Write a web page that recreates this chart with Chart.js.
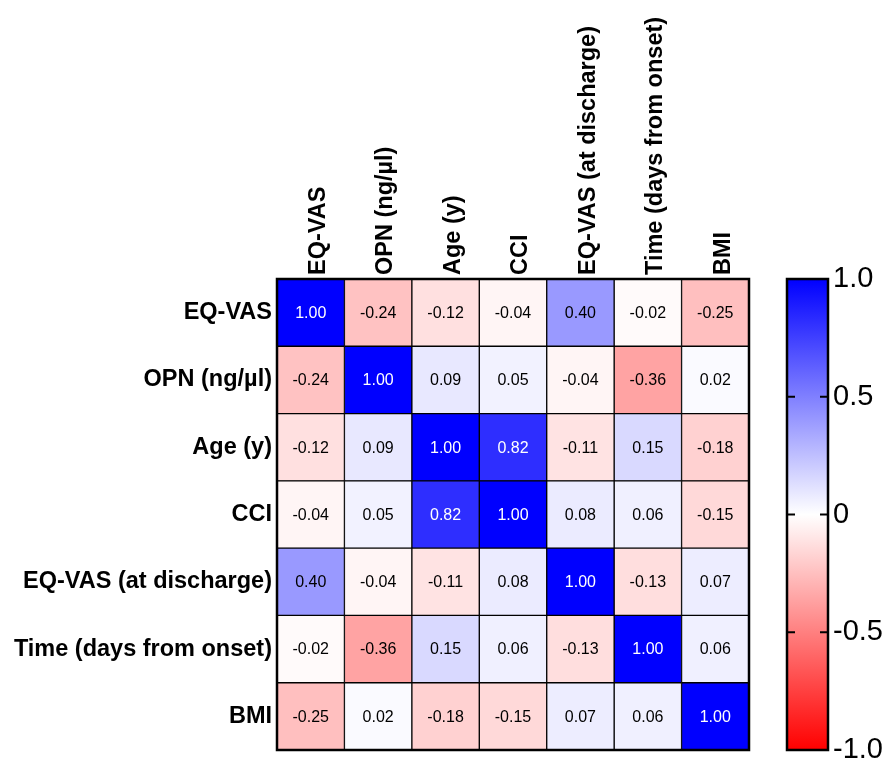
<!DOCTYPE html>
<html><head><meta charset="utf-8">
<script src="https://cdn.jsdelivr.net/npm/chart.js@4.4.1/dist/chart.umd.min.js"></script>
<style>html,body{margin:0;padding:0;background:#fff;}#wrap{width:886px;height:758px;position:relative;}</style>
</head><body><div id="wrap"><canvas id="c" width="886" height="758"></canvas></div>
<script>
const rowLabels = ['EQ-VAS', 'OPN (ng/µl)', 'Age (y)', 'CCI', 'EQ-VAS (at discharge)', 'Time (days from onset)', 'BMI'];
const colLabels = ['EQ-VAS', 'OPN (ng/µl)', 'Age (y)', 'CCI', 'EQ-VAS (at discharge)', 'Time (days from onset)', 'BMI'];
const eqVas          = [ 1.00, -0.24, -0.12, -0.04,  0.40, -0.02, -0.25];
const opn            = [-0.24,  1.00,  0.09,  0.05, -0.04, -0.36,  0.02];
const age            = [-0.12,  0.09,  1.00,  0.82, -0.11,  0.15, -0.18];
const cci            = [-0.04,  0.05,  0.82,  1.00,  0.08,  0.06, -0.15];
const eqVasDischarge = [ 0.40, -0.04, -0.11,  0.08,  1.00, -0.13,  0.07];
const timeOnset      = [-0.02, -0.36,  0.15,  0.06, -0.13,  1.00,  0.06];
const bmi            = [-0.25,  0.02, -0.18, -0.15,  0.07,  0.06,  1.00];
const colorbarTicks = [-1, -0.5, 0, 0.5, 1];
const colorbarTickLabels = ['-1.0', '-0.5', '0', '0.5', '1.0'];

const corr = [eqVas, opn, age, cci, eqVasDischarge, timeOnset, bmi];
const FONT = '"Liberation Sans", Arial, Helvetica, sans-serif';

function cellColor(v) {
  if (v >= 0) { const c = Math.round(255 * (1 - v)); return `rgb(${c},${c},255)`; }
  const c = Math.round(255 * (1 + v)); return `rgb(255,${c},${c})`;
}
function noPad(s) { s.paddingTop = 0; s.paddingBottom = 0; s.paddingLeft = 0; s.paddingRight = 0; }

const datasets = colLabels.map((name, j) => ({
  label: name,
  data: rowLabels.map(() => 1),
  corr: corr.map(r => r[j]),
  backgroundColor: corr.map(r => cellColor(r[j])),
  borderColor: '#000',
  borderWidth: 1,
  borderSkipped: false,
  barPercentage: 1,
  categoryPercentage: 1
}));

const heatPlugin = {
  id: 'heat',
  afterDatasetsDraw(chart) {
    const ctx = chart.ctx, a = chart.chartArea;
    ctx.save();
    ctx.font = `16px ${FONT}`;
    ctx.textAlign = 'center';
    ctx.textBaseline = 'middle';
    chart.data.datasets.forEach((ds, j) => {
      chart.getDatasetMeta(j).data.forEach((el, i) => {
        const v = ds.corr[i];
        const p = el.getCenterPoint();
        ctx.fillStyle = v >= 0.7 ? '#fff' : '#000';
        ctx.fillText(v.toFixed(2), p.x, p.y + 1);
      });
    });
    ctx.strokeStyle = '#000';
    ctx.lineWidth = 2.5;
    ctx.strokeRect(a.left, a.top, a.right - a.left, a.bottom - a.top);

    // colour bar
    const cb = chart.scales.cb;
    const x0 = a.right + 38, w = 41;
    const yTop = cb.getPixelForValue(1), yBot = cb.getPixelForValue(-1);
    const g = ctx.createLinearGradient(0, yTop, 0, yBot);
    g.addColorStop(0, cellColor(1));
    g.addColorStop(0.5, cellColor(0));
    g.addColorStop(1, cellColor(-1));
    ctx.fillStyle = g;
    ctx.fillRect(x0, yTop, w, yBot - yTop);
    ctx.lineWidth = 2.5;
    ctx.strokeRect(x0, yTop, w, yBot - yTop);
    ctx.lineWidth = 2;
    [0.5, 0, -0.5].forEach(v => {
      const y = cb.getPixelForValue(v);
      ctx.beginPath();
      ctx.moveTo(x0, y); ctx.lineTo(x0 + 8, y);
      ctx.moveTo(x0 + w - 8, y); ctx.lineTo(x0 + w, y);
      ctx.stroke();
    });
    ctx.restore();
  }
};

new Chart(document.getElementById('c'), {
  type: 'bar',
  data: { labels: rowLabels, datasets },
  plugins: [heatPlugin],
  options: {
    indexAxis: 'y',
    responsive: false,
    animation: false,
    layout: { padding: { left: 0, right: 0, top: 0, bottom: 8 } },
    plugins: { legend: { display: false }, tooltip: { enabled: false } },
    scales: {
      x: { type: 'linear', stacked: true, min: 0, max: 7, display: false },
      y: {
        type: 'category', stacked: true, position: 'left',
        grid: { display: false, drawTicks: false }, border: { display: false },
        ticks: { color: '#000', padding: 5, font: { family: FONT, size: 23.5, weight: 'bold' } },
        afterFit(s) { s.width = 277; noPad(s); }
      },
      x2: {
        type: 'category', labels: colLabels, position: 'top', offset: true,
        grid: { display: false, drawTicks: false }, border: { display: false },
        ticks: { color: '#000', padding: 4, labelOffset: 36, minRotation: 90, maxRotation: 90, autoSkip: false,
                 font: { family: FONT, size: 23.5, weight: 'bold' } },
        afterFit(s) { s.height = 279; noPad(s); }
      },
      cb: {
        type: 'linear', position: 'right', min: -1, max: 1, offset: false,
        afterBuildTicks(s) { s.ticks = colorbarTicks.map(v => ({ value: v })); },
        grid: { display: true, offset: false, drawOnChartArea: false, drawTicks: true, tickLength: 84, tickColor: 'rgba(0,0,0,0)', color: 'rgba(0,0,0,0)' },
        border: { display: false },
        ticks: { color: '#000', padding: 0, font: { family: FONT, size: 29 },
                 callback(v) { const k = colorbarTicks.indexOf(v); return k >= 0 ? colorbarTickLabels[k] : ''; } },
        afterFit(s) { s.width = 137; noPad(s); }
      }
    }
  }
});
</script></body></html>
